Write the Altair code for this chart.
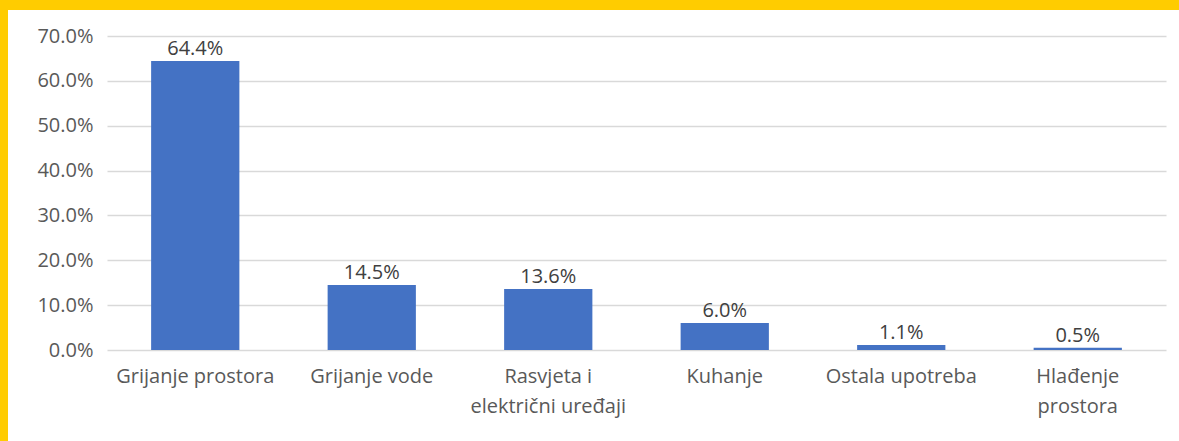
import altair as alt
import pandas as pd

categories = ["Grijanje prostora", "Grijanje vode", "Rasvjeta i|električni uređaji",
              "Kuhanje", "Ostala upotreba", "Hlađenje|prostora"]
shares = [0.644, 0.145, 0.136, 0.060, 0.011, 0.005]
y_ticks = [0.0, 0.1, 0.2, 0.3, 0.4, 0.5, 0.6, 0.7]

df = pd.DataFrame({"cat": categories, "share": shares})

W, H = 1059, 314
PL, PT, PR, PB = 107, 36, 13, 91
FONT = "Open Sans"
YELLOW = "#FFCC00"

x_enc = alt.X("cat:N", sort=categories, title=None,
              scale=alt.Scale(paddingInner=0.5, paddingOuter=0.25),
              axis=alt.Axis(labelAngle=0, labelExpr="split(datum.value, '|')",
                            labelFont=FONT, labelFontSize=20, labelColor="#595959",
                            labelPadding=16, labelLineHeight=30, ticks=False,
                            domain=False, grid=False, labelBaseline="top"))
y_enc = alt.Y("share:Q", title=None,
              scale=alt.Scale(domain=[0, 0.7], nice=False),
              axis=alt.Axis(values=y_ticks, format=".1%", labelFont=FONT, labelFontSize=20,
                            labelColor="#595959", labelPadding=14, ticks=False,
                            domain=False, grid=True, gridColor="#D9D9D9", gridWidth=1.5))

base = alt.Chart(df)
bars = base.mark_bar(color="#4472C4").encode(x=x_enc, y=y_enc)
labels = base.mark_text(font=FONT, fontSize=20, color="#404040", baseline="bottom", dy=-2).encode(
    x=alt.X("cat:N", sort=categories),
    y=alt.Y("share:Q"),
    text=alt.Text("share:Q", format=".1%"),
)

frame = alt.Chart(pd.DataFrame({"k": [0]}))
top_strip = frame.mark_rect(color=YELLOW).encode(
    x=alt.value(-PL), x2=alt.value(W + PR), y=alt.value(-PT), y2=alt.value(-PT + 10))
left_strip = frame.mark_rect(color=YELLOW).encode(
    x=alt.value(-PL), x2=alt.value(-PL + 8), y=alt.value(-PT), y2=alt.value(H + PB))

chart = alt.layer(bars, labels, top_strip, left_strip).properties(
    width=W, height=H,
    autosize=alt.AutoSizeParams(type="none"),
    padding={"left": PL, "top": PT, "right": PR, "bottom": PB},
    background="white",
).configure_view(stroke=None)

chart.save("out.html", embed_options={"renderer": "svg", "actions": False})
